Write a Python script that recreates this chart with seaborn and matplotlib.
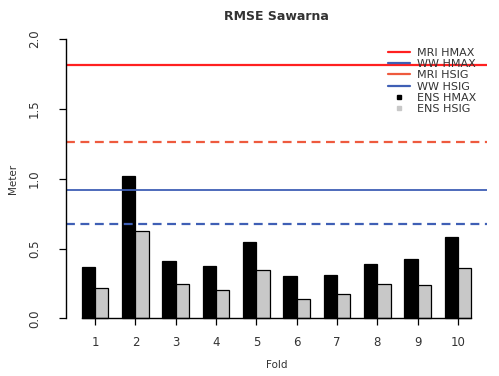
import matplotlib
matplotlib.use("Agg")
import matplotlib.pyplot as plt
from matplotlib.lines import Line2D
import numpy as np
import pandas as pd
import seaborn as sns


# wartosci
folds = ["1", "2", "3", "4", "5", "6", "7", "8", "9", "10"]
ens_hmax = [0.365, 1.02, 0.413, 0.375, 0.547, 0.303, 0.312, 0.391, 0.423, 0.582]
ens_hsig = [0.215, 0.625, 0.243, 0.205, 0.344, 0.136, 0.172, 0.246, 0.239, 0.358]

mri_hmax = 1.815
ww_hmax = 0.917
mri_hsig = 1.265
ww_hsig = 0.678

series_names = ["ENS HMAX", "ENS HSIG"]

df = pd.DataFrame(
    {
        "Fold": folds * 2,
        "RMSE": ens_hmax + ens_hsig,
        "seria": [series_names[0]] * len(folds) + [series_names[1]] * len(folds),
    }
)

sns.set_theme(style="white")
plt.rcParams["font.family"] = ["DejaVu Sans"]

fig = plt.figure(figsize=(4.99, 3.76), dpi=100)
ax = fig.add_axes([0.1323, 0.1237, 0.8437, 0.802])

sns.barplot(
    data=df,
    x="Fold",
    y="RMSE",
    hue="seria",
    order=folds,
    hue_order=series_names,
    palette=["black", "#c8c8c8"],
    edgecolor="black",
    linewidth=0.9,
    width=2 / 3,
    saturation=1,
    legend=False,
    ax=ax,
)

# linie odniesienia
red = "#ff2020"
orange = "#ee5a3e"
blue = "#3f5fb5"
ax.axhline(mri_hmax, color=red, lw=1.6)
ax.axhline(ww_hmax, color=blue, lw=1.3)
ax.axhline(mri_hsig, color=orange, lw=1.6, linestyle=(0, (4, 2.5)))
ax.axhline(ww_hsig, color=blue, lw=1.6, linestyle=(0, (4, 2.5)))

ax.set_xlim(-0.72, 9.72)
ax.set_ylim(-0.08, 2.08)
ax.set_yticks([0, 0.5, 1.0, 1.5, 2.0])
ax.set_yticklabels(["0.0", "0.5", "1.0", "1.5", "2.0"], rotation=90, va="center")

for side in ["top", "right"]:
    ax.spines[side].set_visible(False)
ax.spines["left"].set_bounds(0, 2)
ax.spines["left"].set_color("black")
ax.spines["left"].set_linewidth(1.0)

bar_left = min(p.get_x() for p in ax.patches if p.get_width() > 0)
bar_right = max(p.get_x() + p.get_width() for p in ax.patches if p.get_width() > 0)
ax.spines["bottom"].set_position(("data", 0))
ax.spines["bottom"].set_bounds(bar_left, bar_right)
ax.spines["bottom"].set_color("black")
ax.spines["bottom"].set_linewidth(1.0)

ax.tick_params(axis="both", which="both", direction="out", length=5, width=0.9,
               colors="black", labelcolor="#333333", labelsize=8.5)
ax.tick_params(axis="x", pad=8)
ax.tick_params(axis="y", left=True, pad=13)
ax.tick_params(axis="x", bottom=True)

ax.set_xlabel("Fold", fontsize=7.5, color="#333333", labelpad=8)
ax.set_ylabel("Meter", fontsize=7.5, color="#333333", labelpad=7)
ax.set_title("RMSE Sawarna", fontsize=9, fontweight="bold", color="#333333", pad=6)

handles = [
    Line2D([], [], color=red, lw=1.6),
    Line2D([], [], color=blue, lw=1.6),
    Line2D([], [], color=orange, lw=1.6),
    Line2D([], [], color=blue, lw=1.6),
    Line2D([], [], color="black", marker="s", markersize=3.5, linestyle="none"),
    Line2D([], [], color="#c8c8c8", marker="s", markersize=3.5, linestyle="none"),
]
labels = ["MRI HMAX", "WW HMAX", "MRI HSIG", "WW HSIG", "ENS HMAX", "ENS HSIG"]
leg = fig.legend(
    handles,
    labels,
    loc="upper left",
    bbox_to_anchor=(388 / 499, 1 - 47.5 / 376),
    frameon=False,
    fontsize=8,
    labelspacing=0.12,
    handlelength=2.0,
    handletextpad=0.6,
    borderpad=0,
    borderaxespad=0,
)
for t in leg.get_texts():
    t.set_color("#333333")

fig.savefig("out.png", dpi=100)
